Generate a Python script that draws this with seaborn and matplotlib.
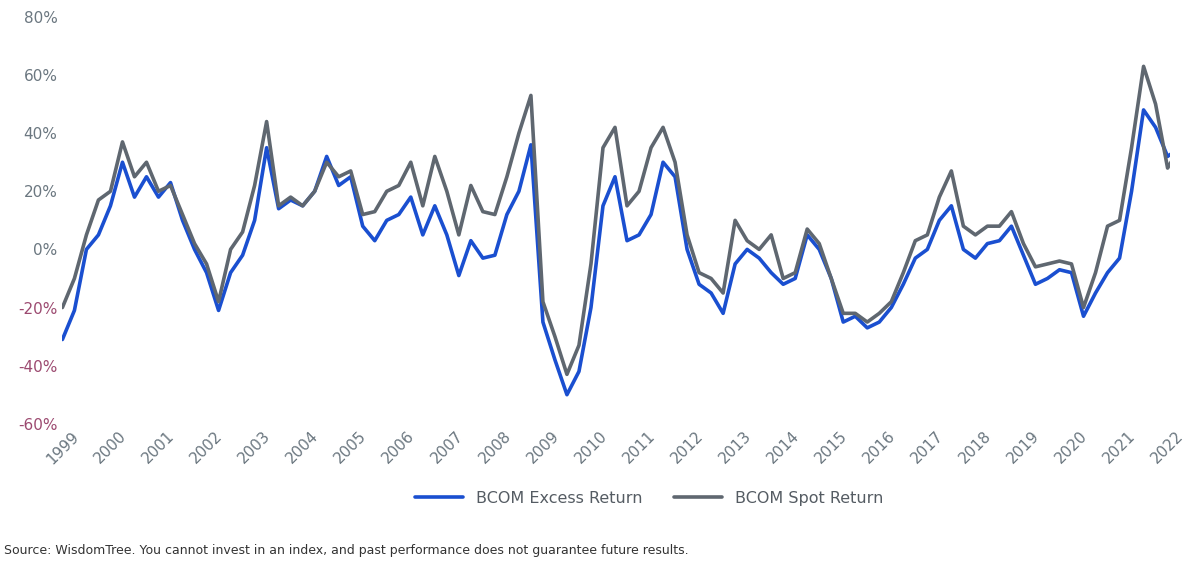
import numpy as np
import pandas as pd
import matplotlib
matplotlib.use("Agg")
import matplotlib.pyplot as plt
import seaborn as sns

# quarterly readings, 1999Q1 .. 2022Q1 (percent)
excess = [-31, -21, 0, 5, 15, 30, 18, 25, 18, 23, 10, 0, -8, -21, -8, -2,
          10, 35, 14, 17, 15, 20, 32, 22, 25, 8, 3, 10, 12, 18, 5, 15,
          5, -9, 3, -3, -2, 12, 20, 36, -25, -38, -50, -42, -20, 15, 25, 3,
          5, 12, 30, 25, 0, -12, -15, -22, -5, 0, -3, -8, -12, -10, 5, 0,
          -10, -25, -23, -27, -25, -20, -12, -3, 0, 10, 15, 0, -3, 2, 3, 8,
          -2, -12, -10, -7, -8, -23, -15, -8, -3, 20, 48, 42, 32, 35]
spot = [-20, -10, 5, 17, 20, 37, 25, 30, 20, 22, 12, 2, -5, -18, 0, 6,
        22, 44, 15, 18, 15, 20, 30, 25, 27, 12, 13, 20, 22, 30, 15, 32,
        20, 5, 22, 13, 12, 25, 40, 53, -18, -30, -43, -33, -5, 35, 42, 15,
        20, 35, 42, 30, 5, -8, -10, -15, 10, 3, 0, 5, -10, -8, 7, 2,
        -10, -22, -22, -25, -22, -18, -8, 3, 5, 18, 27, 8, 5, 8, 8, 13,
        2, -6, -5, -4, -5, -20, -8, 8, 10, 35, 63, 50, 28, 35]
years = list(range(1999, 2023))

t = 1999 + np.arange(len(excess)) / 4
df = pd.DataFrame({"t": np.concatenate([t, t]),
                   "v": excess + spot,
                   "s": ["BCOM Excess Return"] * len(excess) + ["BCOM Spot Return"] * len(spot)})

sns.set_style("white")
fig, ax = plt.subplots(figsize=(12, 5.65), dpi=100)
sns.lineplot(data=df, x="t", y="v", hue="s", palette=["#1a4fd0", "#5f6770"],
             linewidth=2.6, ax=ax)
ax.set_xlim(1999, 2022.05)
ax.set_ylim(-60, 80)
ax.set_yticks(range(-60, 81, 20))
ax.set_yticklabels([f"{v}%" for v in range(-60, 81, 20)])
for lab, v in zip(ax.get_yticklabels(), range(-60, 81, 20)):
    lab.set_color("#9c4a70" if v < 0 else "#6b7780")
ax.set_xticks(years)
ax.set_xticklabels(years, rotation=45, color="#6b7780")
ax.tick_params(labelsize=11, length=0)
ax.set_xlabel("")
ax.set_ylabel("")
sns.despine(left=True, bottom=True)
ax.legend(loc="upper center", bbox_to_anchor=(0.53, -0.13), ncol=2, frameon=False,
          fontsize=11.5, handlelength=3, labelcolor="#555c63")
fig.subplots_adjust(left=0.052, right=0.975, top=0.97, bottom=0.25)
fig.text(0.003, 0.02, "Source: WisdomTree. You cannot invest in an index, and past performance does not guarantee future results.",
         fontsize=9, color="#333333")
fig.savefig("out.png")
